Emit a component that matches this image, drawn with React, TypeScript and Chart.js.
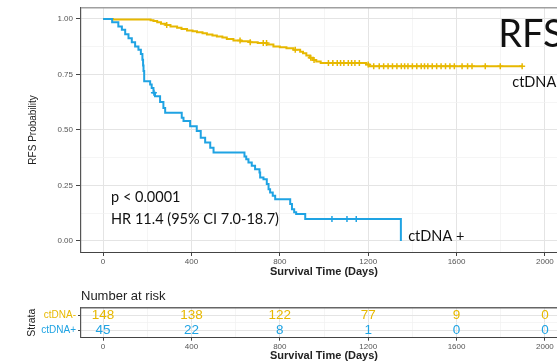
import React, { useEffect, useRef } from "react";
import { Chart, registerables } from "chart.js";
Chart.register(...registerables);

// ---------- data ----------
const negTimes = [0, 45, 215, 228, 245, 262, 285, 305, 335, 355, 380, 405, 425, 450, 470, 495, 515, 540, 560, 590, 625, 666, 700, 741, 771, 800, 830, 862, 892, 905, 920, 935, 950, 965, 985, 1190, 1205, 1897];
const negSurv = [1.0, 0.997, 0.994, 0.99, 0.985, 0.978, 0.972, 0.966, 0.96, 0.954, 0.948, 0.944, 0.94, 0.935, 0.93, 0.925, 0.921, 0.916, 0.91, 0.903, 0.899, 0.895, 0.891, 0.885, 0.876, 0.872, 0.868, 0.861, 0.852, 0.845, 0.835, 0.825, 0.815, 0.808, 0.801, 0.795, 0.787, 0.787];
const posTimes = [0, 41, 69, 85, 100, 115, 130, 145, 160, 171, 178, 181, 183, 186, 213, 220, 228, 235, 258, 273, 281, 356, 364, 394, 424, 442, 462, 485, 500, 640, 648, 658, 673, 688, 708, 711, 726, 741, 749, 756, 768, 779, 847, 855, 865, 874, 915, 1348];
const posSurv = [1.0, 0.985, 0.966, 0.951, 0.931, 0.913, 0.895, 0.876, 0.861, 0.842, 0.816, 0.79, 0.765, 0.719, 0.704, 0.689, 0.667, 0.652, 0.626, 0.599, 0.577, 0.555, 0.54, 0.517, 0.495, 0.465, 0.443, 0.42, 0.398, 0.38, 0.368, 0.353, 0.338, 0.323, 0.308, 0.286, 0.278, 0.256, 0.233, 0.218, 0.203, 0.188, 0.166, 0.143, 0.129, 0.121, 0.099, 0.0];
const negCensor = [288, 620, 666, 725, 740, 870, 940, 955, 1020, 1040, 1060, 1075, 1090, 1110, 1125, 1140, 1160, 1200, 1225, 1250, 1270, 1290, 1310, 1330, 1350, 1365, 1380, 1400, 1420, 1440, 1455, 1470, 1490, 1510, 1530, 1550, 1570, 1590, 1625, 1650, 1670, 1730, 1798, 1897];
const posCensor = [230, 1036, 1104, 1146];

const xMajorTicks = [0, 400, 800, 1200, 1600, 2000];
const xMinorTicks = [200, 600, 1000, 1400, 1800];
const yMajorTicks = [0, 0.25, 0.5, 0.75, 1];
const yMinorTicks = [0.125, 0.375, 0.625, 0.875];

const riskTimes = [0, 400, 800, 1200, 1600, 2000];
const riskNeg = [148, 138, 122, 77, 9, 0];
const riskPos = [45, 22, 8, 1, 0, 0];
const strataLabels = ["ctDNA-", "ctDNA+"];

// ---------- style ----------
const ORANGE = "#E7B800";
const BLUE = "#1FA3E3";
const SANS = "'Liberation Sans', Arial, sans-serif";
const CAL = "Lato, 'Open Sans', sans-serif";
const MAJOR_GRID = "#E4E4E4";
const MINOR_GRID = "#F0F0F0";
const TRANSPARENT = "rgba(0,0,0,0)";

const annotations = [
  { text: "p < 0.0001", t: 36, s: 0.174, size: 14.5 },
  { text: "HR 11.4 (95% CI 7.0-18.7)", t: 36, s: 0.076, size: 14.5 },
  { text: "ctDNA +", t: 1381, s: 0.0, size: 14.5 },
  { text: "ctDNA -", t: 1852, s: 0.695, size: 14.5 },
  { text: "RFS", t: 1789, s: 0.874, size: 38 },
];

function survAt(times: number[], surv: number[], t: number) {
  let v = surv[0];
  for (let i = 0; i < times.length; i++) if (times[i] <= t) v = surv[i];
  return v;
}

const allX = [...xMajorTicks, ...xMinorTicks].sort((a, b) => a - b);
const allY = [...yMajorTicks, ...yMinorTicks].sort((a, b) => a - b);

function xScale(height: number, tickLen: number, tickPad: number, titlePadBottom: number) {
  return {
    type: "linear",
    min: -100,
    max: 2100,
    afterBuildTicks: (s: any) => {
      s.ticks = allX.map((v) => ({ value: v }));
    },
    afterFit: (s: any) => {
      s.height = height;
    },
    ticks: {
      autoSkip: false,
      maxRotation: 0,
      padding: tickPad,
      color: "#555",
      font: { family: SANS, size: 8 },
      callback: (v: number) => (xMajorTicks.includes(v) ? String(v) : ""),
    },
    grid: {
      color: (c: any) => (xMajorTicks.includes(c.tick?.value) ? MAJOR_GRID : MINOR_GRID),
      lineWidth: (c: any) => (xMajorTicks.includes(c.tick?.value) ? 1 : 0.7),
      tickColor: (c: any) => (xMajorTicks.includes(c.tick?.value) ? "#444" : TRANSPARENT),
      tickLength: tickLen,
      tickWidth: 1,
    },
    border: { display: true, color: "#444", width: 1 },
    title: {
      display: true,
      text: "Survival Time (Days)",
      color: "#222",
      font: { family: SANS, size: 11, weight: "bold" },
      padding: { top: 0, bottom: titlePadBottom },
    },
  };
}

const mainPlugin = {
  id: "mainText",
  afterDraw(chart: any) {
    const { ctx, chartArea, scales } = chart;
    const x = scales.x;
    const y = scales.y;
    ctx.save();
    ctx.strokeStyle = "#A0A0A0";
    ctx.lineWidth = 1.5;
    ctx.beginPath();
    ctx.moveTo(chartArea.left, chartArea.top);
    ctx.lineTo(chartArea.right, chartArea.top);
    ctx.stroke();
    ctx.fillStyle = "#111";
    ctx.textAlign = "left";
    ctx.textBaseline = "alphabetic";
    for (const a of annotations) {
      ctx.font = `${a.size}px ${CAL}`;
      ctx.fillText(a.text, x.getPixelForValue(a.t), y.getPixelForValue(a.s));
    }
    ctx.restore();
  },
};

const tablePlugin = {
  id: "riskText",
  afterDraw(chart: any) {
    const { ctx, chartArea, scales } = chart;
    const x = scales.x;
    const y = scales.y;
    ctx.save();
    ctx.strokeStyle = "#666";
    ctx.lineWidth = 1.5;
    ctx.beginPath();
    ctx.moveTo(chartArea.left, chartArea.top);
    ctx.lineTo(chartArea.right, chartArea.top);
    ctx.stroke();
    ctx.fillStyle = "#222";
    ctx.font = `13px ${SANS}`;
    ctx.textAlign = "left";
    ctx.textBaseline = "alphabetic";
    ctx.fillText("Number at risk", chartArea.left, chartArea.top - 8);
    ctx.font = `13.5px ${SANS}`;
    ctx.textAlign = "center";
    ctx.textBaseline = "middle";
    chart.data.datasets.forEach((ds: any) => {
      ctx.fillStyle = ds.textColor;
      ds.data.forEach((p: any) => {
        ctx.fillText(String(p.n), x.getPixelForValue(p.x), y.getPixelForValue(p.y) + 0.5);
      });
    });
    ctx.restore();
  },
};

export default function App() {
  const mainRef = useRef<HTMLCanvasElement>(null);
  const tableRef = useRef<HTMLCanvasElement>(null);

  useEffect(() => {
    const lineNeg = negTimes.map((t, i) => ({ x: t, y: negSurv[i] }));
    const linePos = posTimes.map((t, i) => ({ x: t, y: posSurv[i] }));
    const censNeg = negCensor.map((t) => ({ x: t, y: survAt(negTimes, negSurv, t) }));
    const censPos = posCensor.map((t) => ({ x: t, y: survAt(posTimes, posSurv, t) }));

    const main = new Chart(mainRef.current as HTMLCanvasElement, {
      type: "scatter",
      data: {
        datasets: [
          { data: linePos, showLine: true, stepped: true, borderColor: BLUE, borderWidth: 2, pointRadius: 0, order: 0 } as any,
          { data: censPos, showLine: false, pointStyle: "cross", pointRadius: 3, pointBorderWidth: 1.5, borderColor: BLUE, backgroundColor: BLUE, order: 1 } as any,
          { data: censNeg, showLine: false, pointStyle: "cross", pointRadius: 3, pointBorderWidth: 1.5, borderColor: ORANGE, backgroundColor: ORANGE, order: 2 } as any,
          { data: lineNeg, showLine: true, stepped: true, borderColor: ORANGE, borderWidth: 2, pointRadius: 0, order: 3 } as any,
        ],
      },
      options: {
        animation: false,
        responsive: false,
        layout: { padding: { left: 0, right: 13, top: 7, bottom: 0 } },
        plugins: { legend: { display: false }, tooltip: { enabled: false } },
        events: [],
        scales: {
          x: xScale(28, 4, 1, 1.7) as any,
          y: {
            type: "linear",
            min: -0.05,
            max: 1.05,
            afterBuildTicks: (s: any) => {
              s.ticks = allY.map((v) => ({ value: v }));
            },
            afterFit: (s: any) => {
              s.width = 81;
            },
            ticks: {
              autoSkip: false,
              padding: 3,
              color: "#555",
              font: { family: SANS, size: 8 },
              callback: (v: number) => (yMajorTicks.includes(v) ? v.toFixed(2) : ""),
            },
            grid: {
              color: (c: any) => (yMajorTicks.includes(c.tick?.value) ? MAJOR_GRID : MINOR_GRID),
              lineWidth: (c: any) => (yMajorTicks.includes(c.tick?.value) ? 1 : 0.7),
              tickColor: (c: any) => (yMajorTicks.includes(c.tick?.value) ? "#444" : TRANSPARENT),
              tickLength: 5,
            },
            border: { display: true, color: "#555", width: 1.2 },
            title: {
              display: true,
              text: "RFS Probability",
              color: "#222",
              font: { family: SANS, size: 10 },
              padding: { top: 27, bottom: 0 },
            },
          } as any,
        },
      },
      plugins: [mainPlugin],
    });

    const table = new Chart(tableRef.current as HTMLCanvasElement, {
      type: "scatter",
      data: {
        datasets: [
          { data: riskTimes.map((t, i) => ({ x: t, y: 3, n: riskNeg[i] })), pointRadius: 0, textColor: ORANGE } as any,
          { data: riskTimes.map((t, i) => ({ x: t, y: 1, n: riskPos[i] })), pointRadius: 0, textColor: BLUE } as any,
        ],
      },
      options: {
        animation: false,
        responsive: false,
        layout: { padding: { left: 0, right: 13, top: 27.7, bottom: 0 } },
        plugins: { legend: { display: false }, tooltip: { enabled: false } },
        events: [],
        scales: {
          x: xScale(25.3, 3, 1, 0) as any,
          y: {
            type: "linear",
            min: 0,
            max: 4,
            afterBuildTicks: (s: any) => {
              s.ticks = [1, 2, 3].map((v) => ({ value: v }));
            },
            afterFit: (s: any) => {
              s.width = 81;
            },
            ticks: {
              autoSkip: false,
              padding: 2,
              font: { family: SANS, size: 10 },
              color: (c: any) => (c.tick?.value === 3 ? ORANGE : BLUE),
              callback: (v: number) => (v === 3 ? strataLabels[0] : v === 1 ? strataLabels[1] : ""),
            },
            grid: {
              color: (c: any) => (c.tick?.value === 2 ? MINOR_GRID : MAJOR_GRID),
              lineWidth: (c: any) => (c.tick?.value === 2 ? 0.7 : 1),
              tickColor: (c: any) => (c.tick?.value === 2 ? TRANSPARENT : "#444"),
              tickLength: 3,
            },
            border: { display: true, color: "#555", width: 1.2 },
            title: {
              display: true,
              text: "Strata",
              color: "#222",
              font: { family: SANS, size: 10.5 },
              padding: { top: 26, bottom: 0 },
            },
          } as any,
        },
      },
      plugins: [tablePlugin],
    });

    return () => {
      main.destroy();
      table.destroy();
    };
  }, []);

  return (
    <div style={{ position: "fixed", left: 0, top: 0, width: 557, height: 363, overflow: "hidden", background: "#fff" }}>
      <canvas ref={mainRef} width={580} height={280} style={{ position: "absolute", left: 0, top: 0 }} />
      <canvas ref={tableRef} width={580} height={83} style={{ position: "absolute", left: 0, top: 280 }} />
    </div>
  );
}
